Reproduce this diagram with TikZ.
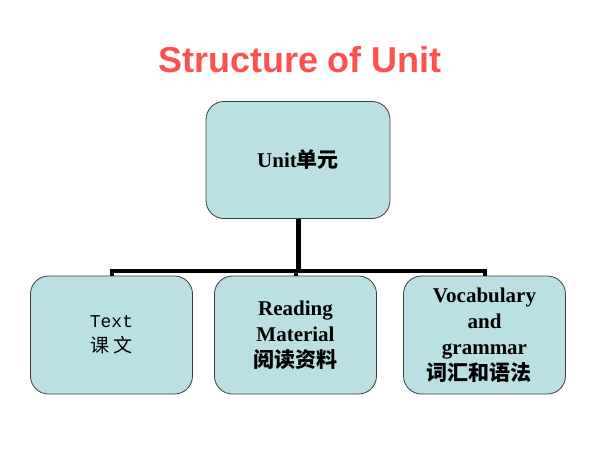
\documentclass[tikz,border=0pt]{standalone}
\usepackage{fontspec}
\setmainfont{Liberation Serif}
\setsansfont{Liberation Sans}
\setmonofont{Liberation Mono}
\newfontfamily\cjk{Noto Sans CJK SC}
\usetikzlibrary{positioning}
\definecolor{unitRed}{RGB}{255,80,80}
\definecolor{boxBlue}{RGB}{186,224,227}
\definecolor{boxEdge}{RGB}{60,60,60}

\begin{document}
\begin{tikzpicture}[x=1pt,y=-1pt,
  unitbox/.style={draw=boxEdge, fill=boxBlue, line width=0.8pt, rounded corners=18pt,
    minimum width=162pt, minimum height=118pt, align=center,
    font=\bfseries\fontsize{21}{26}\selectfont},
  trunk/.style={line width=5pt},
  branch/.style={line width=4pt}]
\useasboundingbox (0,0) rectangle (600,450);

\node[text=unitRed, font=\sffamily\bfseries\fontsize{36}{40}\selectfont, anchor=base]
  (title) at (300,72) {Structure of Unit};

\node[unitbox, minimum width=184pt, minimum height=117pt] (unit) at (298,160)
  {Unit{\cjk 单元}};

\node[unitbox, font=\fontsize{18}{25}\selectfont] (text) at (111.5,335)
  {\texttt{Text}\\{\cjk\fontsize{19}{25}\selectfont 课\,文}};
\node[unitbox] (reading) at (295.5,335)
  {Reading\\Material\\{\cjk 阅读资料}};
\node[unitbox] (vocab) at (484.5,335)
  {Vocabulary\\and\\grammar\hspace*{0.5em}\\{\cjk 词汇和语法}\hspace*{0.5em}};

% tree lines
\draw[trunk] (unit.south) -- ++(0,52) coordinate (split);
\draw[branch] (split) -| (text.north);
\draw[branch] (split) -| (reading.north);
\draw[branch] (split) -| (vocab.north);
\end{tikzpicture}
\end{document}
